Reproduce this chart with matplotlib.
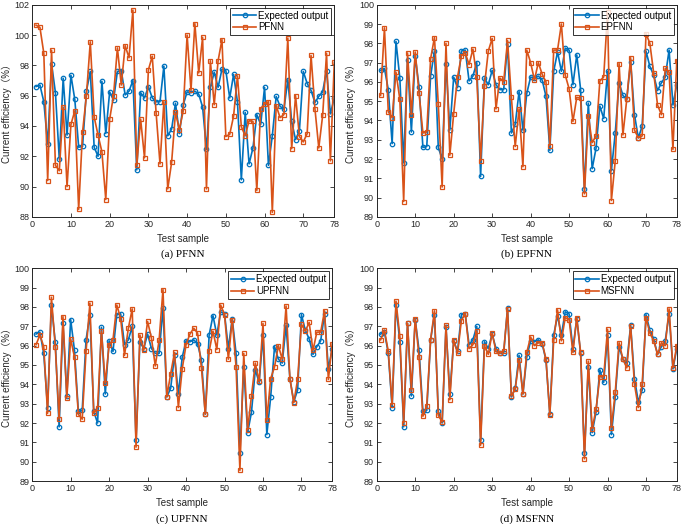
import matplotlib.pyplot as plt

# test sample index
samples = list(range(1, 79))

# expected output (same in every panel)
expected = [96.6, 96.7, 95.6, 92.8, 98.1, 96.2, 91.8, 97.15, 93.4, 97.35,
            95.75, 92.6, 92.65, 96.3, 97.6, 92.6, 92.0, 96.95, 93.5, 96.25,
            95.7, 97.6, 97.65, 96.05, 96.3, 97.0, 91.1, 96.2, 95.85, 96.6,
            95.85, 95.6, 95.6, 97.95, 93.35, 93.8, 95.5, 93.5, 95.4, 96.25,
            96.2, 96.3, 96.1, 95.25, 92.45, 96.55, 97.55, 96.55, 97.75, 97.65,
            95.85, 97.4, 95.6, 90.45, 94.9, 91.5, 92.55, 94.75, 94.1, 96.55,
            91.4, 93.35, 95.95, 95.3, 95.1, 97.05, 94.3, 93.1, 93.7, 97.6,
            96.8, 96.35, 95.55, 95.95, 96.25, 97.65, 94.8, 95.85]

pfnn = [100.65, 100.5, 98.8, 90.4, 99.0, 91.4, 91.05, 95.25, 90.0, 94.1,
        95.0, 88.5, 93.6, 96.0, 99.55, 94.6, 93.4, 92.3, 89.15, 94.45,
        96.0, 99.15, 96.7, 99.3, 98.5, 101.65, 91.4, 94.45, 91.9, 97.7,
        98.6, 94.85, 91.5, 95.6, 89.85, 91.6, 94.9, 93.75, 95.0, 100.0,
        96.35, 100.75, 97.5, 99.85, 89.85, 98.3, 95.4, 98.3, 99.7, 93.3,
        93.45, 94.65, 97.3, 93.95, 93.35, 94.35, 94.3, 89.75, 95.15, 95.45,
        95.6, 88.3, 95.35, 94.55, 94.75, 99.8, 92.5, 96.0, 93.3, 92.95,
        93.5, 98.65, 95.15, 92.55, 94.7, 98.8, 91.7, 98.2]

epfnn = [95.3, 98.8, 94.45, 94.15, 96.5, 95.1, 89.8, 97.5, 94.3, 97.55,
         95.4, 93.35, 93.4, 97.2, 98.3, 94.85, 90.55, 98.0, 92.2, 94.35,
         96.25, 97.35, 97.5, 96.9, 97.7, 96.25, 91.9, 95.8, 97.6, 98.25,
         94.6, 96.2, 96.0, 98.15, 95.2, 92.65, 94.6, 91.6, 97.65, 97.0,
         96.1, 97.0, 96.4, 96.0, 92.7, 97.65, 97.65, 99.0, 96.35, 95.65,
         93.95, 95.2, 95.15, 90.2, 94.25, 92.85, 93.2, 96.05, 96.25, 99.6,
         89.85, 91.9, 96.95, 93.25, 95.1, 97.25, 93.5, 93.1, 93.2, 98.5,
         98.0, 96.45, 94.8, 94.3, 96.7, 96.5, 92.5, 97.1]

upfnn = [96.05, 96.55, 95.95, 92.5, 98.5, 95.95, 92.2, 97.5, 93.3, 96.35,
         95.4, 92.45, 92.2, 95.7, 98.2, 92.5, 92.8, 96.75, 94.05, 96.05,
         96.3, 98.1, 97.4, 95.5, 96.9, 97.9, 90.75, 96.55, 95.75, 97.25,
         96.4, 94.95, 96.3, 98.9, 93.35, 94.55, 95.65, 92.8, 94.8, 96.05,
         96.6, 96.9, 96.65, 94.85, 92.45, 95.7, 96.75, 95.8, 98.1, 97.6,
         95.3, 97.35, 94.9, 89.55, 95.6, 91.65, 93.4, 95.1, 94.15, 97.15,
         92.15, 94.3, 94.9, 96.0, 95.3, 98.05, 94.3, 93.05, 94.25, 97.1,
         96.75, 97.2, 95.75, 96.7, 96.7, 97.8, 94.25, 96.1]

msfnn = [96.3, 96.8, 95.7, 92.95, 98.3, 96.5, 92.0, 97.15, 93.7, 97.4,
         95.4, 92.35, 92.9, 96.3, 97.8, 92.4, 92.05, 97.05, 93.2, 96.3,
         95.6, 97.3, 97.65, 95.85, 96.05, 96.75, 90.85, 96.0, 95.55, 96.65,
         95.7, 95.6, 95.7, 97.9, 93.4, 93.75, 95.25, 93.5, 95.65, 96.45,
         96.0, 96.15, 96.15, 95.3, 92.4, 96.3, 97.85, 96.25, 97.45, 97.35,
         95.65, 97.45, 95.65, 90.15, 95.2, 91.7, 92.7, 94.4, 94.4, 96.85,
         91.75, 93.6, 96.15, 95.3, 94.85, 97.0, 94.0, 92.8, 94.0, 97.45,
         96.65, 96.25, 95.55, 96.15, 96.0, 97.9, 94.85, 96.0]

models = ["PFNN", "EPFNN", "UPFNN", "MSFNN"]
predictions = [pfnn, epfnn, upfnn, msfnn]
captions = ["(a) PFNN", "(b) EPFNN", "(c) UPFNN", "(d) MSFNN"]
ylims = [(88, 102), (89, 100), (89, 100), (89, 100)]
ysteps = [2, 1, 1, 1]

sans = ["Liberation Sans", "Noto Sans CJK SC"]
blue = "#0072BD"
orange = "#D95319"

fig = plt.figure(figsize=(6.85, 5.24), dpi=100)
positions = [[0.047, 0.586, 0.441, 0.405],
             [0.550, 0.586, 0.438, 0.405],
             [0.047, 0.082, 0.438, 0.406],
             [0.550, 0.082, 0.438, 0.406]]

for i in range(4):
    ax = fig.add_axes(positions[i])
    ax.plot(samples, expected, color=blue, lw=1.2, marker="o", ms=3.2,
            mfc="none", mew=0.9, label="Expected output")
    ax.plot(samples, predictions[i], color=orange, lw=1.2, marker="s", ms=2.8,
            mfc="none", mew=0.9, label=models[i])
    lo, hi = ylims[i]
    ax.set_xlim(0, 78)
    ax.set_ylim(lo, hi)
    ax.set_xticks([0, 10, 20, 30, 40, 50, 60, 70, 78])
    ax.set_yticks(list(range(lo, hi + 1, ysteps[i])))
    ax.tick_params(direction="in", top=True, right=True, labelsize=6.5,
                   length=3, width=0.6, colors="#262626", pad=2)
    for s in ax.spines.values():
        s.set_linewidth(0.7)
        s.set_color("#262626")
    for lab in ax.get_xticklabels() + ax.get_yticklabels():
        lab.set_family(sans)
    ax.set_xlabel("Test sample", fontsize=7, family=sans, labelpad=3.5,
                  color="#262626")
    ax.set_ylabel("Current efficiency（%）", fontsize=7, family=sans,
                  labelpad=2, color="#262626")
    leg = ax.legend(loc="upper right", prop={"family": sans, "size": 7},
                    fancybox=False, edgecolor="black", borderpad=0.3,
                    handlelength=2.4, labelspacing=0.2, borderaxespad=0.3,
                    handletextpad=0.2)
    leg.get_frame().set_linewidth(0.7)
    ax.text(0.5, -0.155, captions[i], transform=ax.transAxes, ha="center",
            va="top", fontsize=8, family="Liberation Serif")

plt.savefig("out.png", dpi=100)
